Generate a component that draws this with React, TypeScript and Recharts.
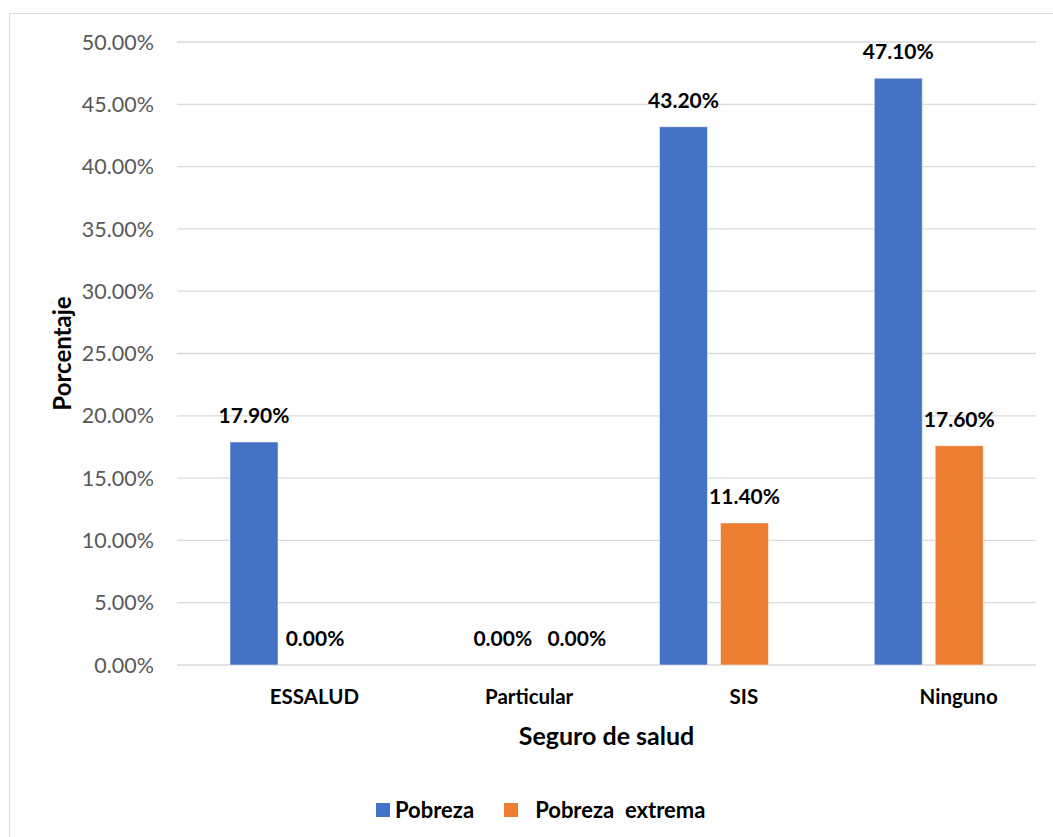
import { BarChart, Bar, XAxis, YAxis, CartesianGrid, LabelList, Legend, Rectangle } from 'recharts';

const categories = ['ESSALUD', 'Particular', 'SIS', 'Ninguno'];
const pobreza = [17.9, 0, 43.2, 47.1];
const pobrezaExtrema = [0, 0, 11.4, 17.6];
const yTicks = [0, 5, 10, 15, 20, 25, 30, 35, 40, 45, 50];

const BLUE = '#4472C4';
const ORANGE = '#ED7D31';
const FONT = 'Lato, "Open Sans", sans-serif';

// small horizontal nudges so the two zero labels under "Particular" don't crowd
const pobrezaLabelNudge = [0, 34, 0, 0];
const extremaLabelNudge = [0, 47, 0, 0];

const data = categories.map((name, i) => ({
  name,
  pobreza: pobreza[i],
  extrema: pobrezaExtrema[i],
}));

const pct = (v: number) => `${v.toFixed(2)}%`;

function makeValueLabel(nudge: number[]) {
  return (props: any) => {
    const vb = props.viewBox ?? props;
    const x = Number(vb.x ?? props.x);
    const y = Number(vb.y ?? props.y);
    const w = Number(vb.width ?? props.width);
    const h = Number(vb.height ?? props.height);
    const idx = props.index ?? 0;
    const v = Number(props.value);
    // zero bars get a 1px stub so their label is still laid out; anchor those on the baseline
    const top = v === 0 ? y + h : y;
    return (
      <text
        x={x + w / 2 + (nudge[idx] || 0)}
        y={top - 19}
        textAnchor="middle"
        fill="#000"
        fontSize={21}
        fontWeight={700}
        fontFamily={FONT}
      >
        {pct(v)}
      </text>
    );
  };
}

// hide the stub drawn for zero values
function makeBarShape(key: string) {
  return (props: any) => {
    if (!props.payload || Number(props.payload[key]) === 0) return <g />;
    return <Rectangle {...props} />;
  };
}

function CategoryTick({ x, y, payload }: any) {
  return (
    <text x={x + 30} y={y + 39} textAnchor="middle" fill="#000" fontSize={20.5} fontWeight={700} fontFamily={FONT}>
      {payload.value}
    </text>
  );
}

function LegendBox() {
  const item = (color: string, label: string, gap: number, after: number) => (
    <div style={{ display: 'flex', alignItems: 'center', marginRight: after }}>
      <span style={{ width: 14, height: 14, background: color, display: 'inline-block', marginRight: gap }} />
      <span style={{ fontSize: 22, fontWeight: 700, color: '#000', whiteSpace: 'pre', fontFamily: FONT }}>{label}</span>
    </div>
  );
  return (
    <div style={{ display: 'flex', alignItems: 'center' }}>
      {item(BLUE, 'Pobreza', 5, 30)}
      {item(ORANGE, 'Pobreza  extrema', 17, 0)}
    </div>
  );
}

export default function App() {
  return (
    <div style={{ position: 'absolute', left: 0, top: 0, width: 1053, height: 837, overflow: 'hidden', background: '#fff' }}>
      <div
        style={{
          position: 'absolute',
          left: 9,
          top: 13,
          width: 1200,
          height: 1000,
          border: '1.3px solid #D9D9D9',
        }}
      />
      <BarChart
        width={1053}
        height={837}
        data={data}
        margin={{ top: 42, right: 17, bottom: 72, left: 0 }}
        barCategoryGap={53}
        barGap={13}
        style={{ fontFamily: FONT }}
      >
        <CartesianGrid horizontal vertical={false} stroke="#D9D9D9" strokeWidth={1.3} />
        <XAxis
          dataKey="name"
          height={100}
          axisLine={false}
          tickLine={false}
          tickSize={0}
          tickMargin={0}
          tick={<CategoryTick />}
          label={{
            content: (p: any) => {
              const vb = p.viewBox;
              return (
                <text x={vb.x + vb.width / 2} y={vb.y + 80} textAnchor="middle" fill="#000" fontSize={25} fontWeight={700} fontFamily={FONT}>
                  Seguro de salud
                </text>
              );
            },
          }}
        />
        <YAxis
          width={177}
          domain={[0, 50]}
          ticks={yTicks}
          axisLine={false}
          tickLine={false}
          tickSize={0}
          tickMargin={23}
          tickFormatter={pct}
          tick={{ fill: '#595959', fontSize: 21.5, fontFamily: FONT }}
          label={{
            content: (p: any) => {
              const vb = p.viewBox;
              const cx = vb.x + 61;
              const cy = vb.y + vb.height / 2;
              return (
                <text
                  x={cx}
                  y={cy}
                  transform={`rotate(-90 ${cx} ${cy})`}
                  textAnchor="middle"
                  dominantBaseline="central"
                  fill="#000"
                  fontSize={24}
                  fontWeight={700}
                  fontFamily={FONT}
                >
                  Porcentaje
                </text>
              );
            },
          }}
        />
        <Legend
          verticalAlign="middle"
          align="center"
          content={<LegendBox />}
          wrapperStyle={{ top: 796, left: 376, width: 500 }}
        />
        <Bar
          dataKey="pobreza"
          name="Pobreza"
          fill={BLUE}
          stroke="#ffffff"
          strokeOpacity={0.5}
          minPointSize={1}
          shape={makeBarShape('pobreza')}
          isAnimationActive={false}
        >
          <LabelList dataKey="pobreza" content={makeValueLabel(pobrezaLabelNudge)} />
        </Bar>
        <Bar
          dataKey="extrema"
          name="Pobreza  extrema"
          fill={ORANGE}
          stroke="#ffffff"
          strokeOpacity={0.5}
          minPointSize={1}
          shape={makeBarShape('extrema')}
          isAnimationActive={false}
        >
          <LabelList dataKey="extrema" content={makeValueLabel(extremaLabelNudge)} />
        </Bar>
      </BarChart>
    </div>
  );
}
